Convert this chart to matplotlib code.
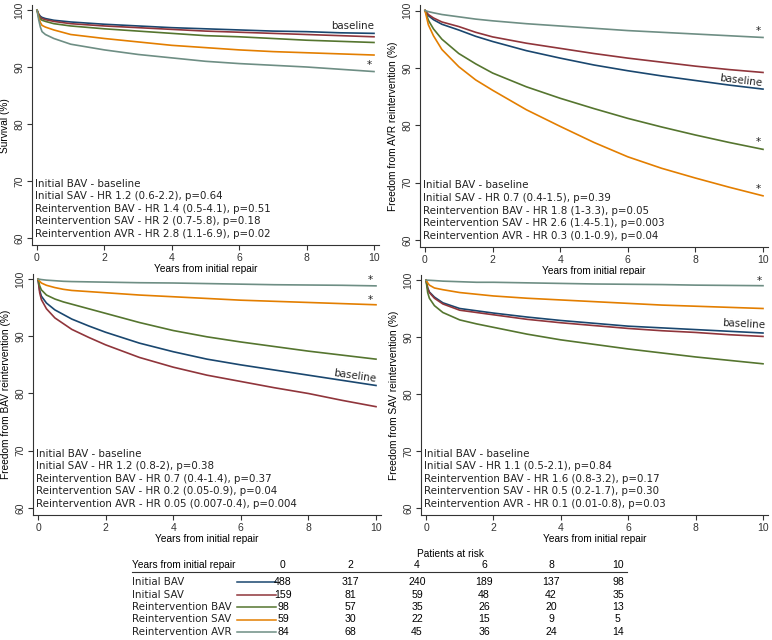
import numpy as np
import matplotlib.pyplot as plt
from matplotlib.lines import Line2D

# Series names and colours
groups = ['Initial BAV', 'Initial SAV', 'Reintervention BAV',
          'Reintervention SAV', 'Reintervention AVR']
colors = ['#1a476f', '#90353b', '#55752f', '#e37e00', '#6e8e84']

# Survival (%)
surv_t = [0, 0.05, 0.1, 0.15, 0.25, 0.5, 1, 2, 3, 4, 5, 6, 7, 8, 9, 10]
surv_bav = [100, 99.3, 98.9, 98.7, 98.5, 98.2, 97.9, 97.5, 97.2, 96.9, 96.7, 96.5, 96.3, 96.2, 96.0, 95.9]
surv_sav = [100, 99.2, 98.7, 98.5, 98.3, 98.0, 97.6, 97.2, 96.9, 96.6, 96.3, 96.1, 95.9, 95.7, 95.5, 95.3]
surv_rbav = [100, 99.0, 98.4, 98.2, 98.0, 97.6, 97.2, 96.7, 96.3, 95.9, 95.5, 95.3, 95.0, 94.7, 94.5, 94.3]
surv_rsav = [100, 98.7, 97.8, 97.3, 97.0, 96.5, 95.7, 95.0, 94.4, 93.8, 93.4, 93.0, 92.7, 92.5, 92.3, 92.1]
surv_ravr = [100, 98.3, 97.0, 96.2, 95.7, 95.0, 94.0, 93.0, 92.2, 91.6, 91.0, 90.6, 90.3, 90.0, 89.6, 89.2]

# Freedom from AVR reintervention (%)
avr_t = [0, 0.1, 0.25, 0.5, 1, 1.5, 2, 3, 4, 5, 6, 7, 8, 9, 10]
avr_bav = [100, 99.1, 98.4, 97.6, 96.6, 95.5, 94.6, 93.0, 91.7, 90.5, 89.5, 88.6, 87.8, 87.0, 86.3]
avr_sav = [100, 99.3, 98.7, 98.0, 97.2, 96.2, 95.4, 94.3, 93.4, 92.5, 91.7, 91.0, 90.3, 89.7, 89.2]
avr_rbav = [100, 98.3, 96.8, 95.0, 92.5, 90.7, 89.1, 86.7, 84.7, 82.9, 81.2, 79.7, 78.3, 77.0, 75.8]
avr_rsav = [100, 97.5, 95.6, 93.2, 90.2, 87.9, 86.1, 82.7, 79.8, 77.0, 74.5, 72.5, 70.8, 69.2, 67.7]
avr_ravr = [100, 99.8, 99.6, 99.3, 98.9, 98.5, 98.2, 97.7, 97.3, 96.9, 96.5, 96.2, 95.9, 95.6, 95.3]

# Freedom from BAV reintervention (%)
bav_t = [0, 0.05, 0.1, 0.25, 0.5, 0.75, 1, 1.5, 2, 3, 4, 5, 6, 7, 8, 9, 10]
bav_bav = [100, 98.0, 97.0, 95.8, 94.6, 93.8, 93.0, 91.8, 90.7, 88.8, 87.3, 86.0, 85.0, 84.1, 83.2, 82.3, 81.4]
bav_sav = [100, 97.6, 96.4, 94.8, 93.2, 92.2, 91.2, 89.8, 88.5, 86.3, 84.6, 83.2, 82.1, 81.0, 80.0, 78.8, 77.7]
bav_rbav = [100, 98.8, 98.1, 97.2, 96.5, 96.0, 95.6, 94.8, 94.0, 92.4, 91.0, 89.9, 89.0, 88.2, 87.4, 86.7, 86.0]
bav_rsav = [100, 99.6, 99.3, 98.9, 98.5, 98.2, 98.0, 97.8, 97.6, 97.2, 96.9, 96.6, 96.3, 96.1, 95.9, 95.7, 95.5]
bav_ravr = [100, 99.95, 99.9, 99.8, 99.7, 99.6, 99.55, 99.5, 99.45, 99.35, 99.3, 99.2, 99.1, 99.0, 98.95, 98.9, 98.8]

# Freedom from SAV reintervention (%)
sav_t = [0, 0.05, 0.1, 0.25, 0.5, 1, 1.5, 2, 3, 4, 5, 6, 7, 8, 9, 10]
sav_bav = [100, 98.6, 97.9, 97.0, 96.0, 95.0, 94.6, 94.2, 93.5, 92.9, 92.4, 91.9, 91.6, 91.3, 91.0, 90.7]
sav_sav = [100, 98.5, 97.8, 96.8, 95.8, 94.7, 94.3, 93.9, 93.1, 92.5, 92.0, 91.5, 91.1, 90.8, 90.4, 90.1]
sav_rbav = [100, 97.8, 96.8, 95.5, 94.3, 93.0, 92.3, 91.7, 90.5, 89.5, 88.7, 87.9, 87.2, 86.5, 85.9, 85.3]
sav_rsav = [100, 99.5, 99.1, 98.6, 98.3, 97.8, 97.5, 97.2, 96.8, 96.5, 96.2, 95.9, 95.6, 95.4, 95.2, 95.0]
sav_ravr = [100, 99.97, 99.95, 99.9, 99.8, 99.7, 99.6, 99.6, 99.5, 99.4, 99.3, 99.25, 99.2, 99.1, 99.05, 99.0]

# Hazard ratio captions
surv_hr = ['Initial BAV - baseline',
           'Initial SAV - HR 1.2 (0.6-2.2), p=0.64',
           'Reintervention BAV - HR 1.4 (0.5-4.1), p=0.51',
           'Reintervention SAV - HR 2 (0.7-5.8), p=0.18',
           'Reintervention AVR - HR 2.8 (1.1-6.9), p=0.02']
avr_hr = ['Initial BAV - baseline',
          'Initial SAV - HR 0.7 (0.4-1.5), p=0.39',
          'Reintervention BAV - HR 1.8 (1-3.3), p=0.05',
          'Reintervention SAV - HR 2.6 (1.4-5.1), p=0.003',
          'Reintervention AVR - HR 0.3 (0.1-0.9), p=0.04']
bav_hr = ['Initial BAV - baseline',
          'Initial SAV - HR 1.2 (0.8-2), p=0.38',
          'Reintervention BAV - HR 0.7 (0.4-1.4), p=0.37',
          'Reintervention SAV - HR 0.2 (0.05-0.9), p=0.04',
          'Reintervention AVR - HR 0.05 (0.007-0.4), p=0.004']
sav_hr = ['Initial BAV - baseline',
          'Initial SAV - HR 1.1 (0.5-2.1), p=0.84',
          'Reintervention BAV - HR 1.6 (0.8-3.2), p=0.17',
          'Reintervention SAV - HR 0.5 (0.2-1.7), p=0.30',
          'Reintervention AVR - HR 0.1 (0.01-0.8), p=0.03']

# Patients at risk
risk_years = [0, 2, 4, 6, 8, 10]
risk_bav = [488, 317, 240, 189, 137, 98]
risk_sav = [159, 81, 59, 48, 42, 35]
risk_rbav = [98, 57, 35, 26, 20, 13]
risk_rsav = [59, 30, 22, 15, 9, 5]
risk_ravr = [84, 68, 45, 36, 24, 14]

W, H = 772, 640
XMIN, XMAX, YMIN, YMAX = -0.15, 10.15, 58.7, 100.9

plt.rcParams['font.family'] = 'Liberation Sans'
fig = plt.figure(figsize=(W / 100, H / 100), dpi=100)


def place(x0, x10, y100, y60):
    # pixel positions of x=0, x=10, y=100, y=60 -> axes rect
    sx = (x10 - x0) / 10
    sy = (y60 - y100) / 40
    left = x0 + XMIN * sx
    right = x0 + XMAX * sx
    top = y100 - (YMAX - 100) * sy
    bottom = y60 + (60 - YMIN) * sy
    return [left / W, 1 - bottom / H, (right - left) / W, (bottom - top) / H]


panels = [
    (place(37, 374, 10, 238), 'Survival (%)', surv_t,
     [surv_bav, surv_sav, surv_rbav, surv_rsav, surv_ravr], surv_hr),
    (place(425, 763, 10.5, 240), 'Freedom from AVR reintervention (%)', avr_t,
     [avr_bav, avr_sav, avr_rbav, avr_rsav, avr_ravr], avr_hr),
    (place(38, 376, 279, 508), 'Freedom from BAV reintervention (%)', bav_t,
     [bav_bav, bav_sav, bav_rbav, bav_rsav, bav_ravr], bav_hr),
    (place(426, 763, 280, 508), 'Freedom from SAV reintervention (%)', sav_t,
     [sav_bav, sav_sav, sav_rbav, sav_rsav, sav_ravr], sav_hr),
]

axes = []
for rect, ylab, t, series, hr in panels:
    ax = fig.add_axes(rect)
    for vals, c in zip(series, colors):
        ax.plot(t, vals, color=c, lw=1.2)
    ax.set_xlim(XMIN, XMAX)
    ax.set_ylim(YMIN, YMAX)
    ax.set_xticks([0, 2, 4, 6, 8, 10])
    ax.set_yticks([60, 70, 80, 90, 100])
    for s in ['top', 'right']:
        ax.spines[s].set_visible(False)
    for s in ['left', 'bottom']:
        ax.spines[s].set_linewidth(0.8)
        ax.spines[s].set_color('#333333')
    ax.tick_params(length=3.5, width=0.8, colors='#333333', labelsize=7.5, pad=2)
    ax.tick_params(axis='y', labelrotation=90)
    for lab in ax.get_yticklabels():
        lab.set_va('center')
    ax.set_xlabel('Years from initial repair', fontsize=7.3, labelpad=0.5)
    ax.set_ylabel(ylab, fontsize=7.3, labelpad=3)
    for i, line in enumerate(hr):
        ax.text(-0.05, 69.5 - i * 2.2, line, family='DejaVu Sans', fontsize=7.4,
                va='center', ha='left', color='#222222')
    axes.append(ax)

# significance marks and baseline labels
ann = dict(family='DejaVu Sans', color='#222222')
a0, a1, a2, a3 = axes
a0.text(10, 97.2, 'baseline', ha='right', va='center', fontsize=7.4, **ann)
a0.text(9.87, 90.3, '*', ha='center', va='center', fontsize=7.5, **ann)
a1.text(9.87, 96.4, '*', ha='center', va='center', fontsize=7.5, **ann)
a1.text(9.87, 77.1, '*', ha='center', va='center', fontsize=7.5, **ann)
a1.text(9.87, 68.9, '*', ha='center', va='center', fontsize=7.5, **ann)
a1.text(9.35, 87.8, 'baseline', ha='center', va='center', fontsize=7.4, rotation=-7,
        rotation_mode='anchor', **ann)
a2.text(9.84, 99.8, '*', ha='center', va='center', fontsize=7.5, **ann)
a2.text(9.84, 96.4, '*', ha='center', va='center', fontsize=7.5, **ann)
a2.text(9.38, 83.1, 'baseline', ha='center', va='center', fontsize=7.4, rotation=-8,
        rotation_mode='anchor', **ann)
a3.text(9.89, 99.8, '*', ha='center', va='center', fontsize=7.5, **ann)
a3.text(9.42, 92.3, 'baseline', ha='center', va='center', fontsize=7.4, rotation=-3,
        rotation_mode='anchor', **ann)

# Patients at risk table (figure pixel coordinates)
def fx(px):
    return px / W


def fy(py):
    return 1 - py / H


col_x = [283 + 67 * i for i in range(len(risk_years))]
row_y = [582, 594.5, 607, 619.5, 632]
fig.text(fx(450), fy(554), 'Patients at risk', ha='center', va='center', fontsize=7.3)
fig.text(fx(132), fy(565), 'Years from initial repair', ha='left', va='center', fontsize=7.3)
for x, yr in zip(col_x, risk_years):
    fig.text(fx(x), fy(565), str(yr), ha='center', va='center', fontsize=7.5)
fig.add_artist(Line2D([fx(132), fx(627)], [fy(572), fy(572)], color='#333333', lw=0.8))

risk_rows = [risk_bav, risk_sav, risk_rbav, risk_rsav, risk_ravr]
for name, c, vals, y in zip(groups, colors, risk_rows, row_y):
    fig.text(fx(132), fy(y), name, ha='left', va='center', fontsize=7.4,
             family='DejaVu Sans', color='#222222')
    fig.add_artist(Line2D([fx(237), fx(276)], [fy(y), fy(y)], color=c, lw=1.1))
    for x, v in zip(col_x, vals):
        fig.text(fx(x), fy(y), str(v), ha='center', va='center', fontsize=7.6)

fig.savefig('out.png', dpi=100)
